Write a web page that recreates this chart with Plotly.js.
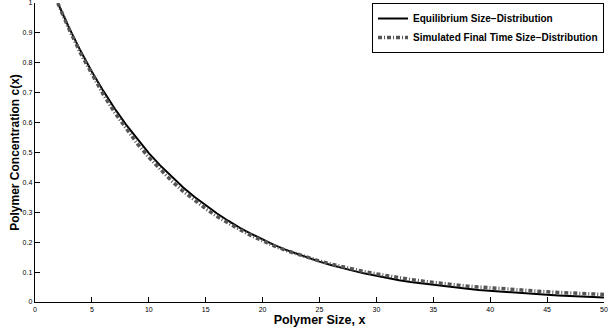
<!DOCTYPE html>
<html>
<head>
<meta charset="utf-8">
<script src="https://cdn.plot.ly/plotly-3.0.1.min.js"></script>
<style>html,body{margin:0;padding:0;background:#fff;}#chart{width:608px;height:335px;}</style>
</head>
<body>
<div id="chart"></div>
<script>
const sizes = [2,3,4,5,6,7,8,9,10,11,12,13,14,15,16,17,18,19,20,21,22,23,24,25,26,27,28,29,30,31,32,33,34,35,36,37,38,39,40,41,42,43,44,45,46,47,48,49,50];
const equilibrium = [1.000,0.917,0.840,0.770,0.706,0.647,0.593,0.544,0.498,0.457,0.419,0.384,0.352,0.323,0.296,0.271,0.248,0.228,0.209,0.191,0.175,0.161,0.147,0.135,0.124,0.113,0.104,0.095,0.087,0.080,0.073,0.067,0.062,0.057,0.052,0.048,0.044,0.040,0.037,0.034,0.031,0.028,0.026,0.024,0.022,0.020,0.018,0.017,0.015];
const simulated = [1.000,0.912,0.832,0.760,0.694,0.634,0.579,0.529,0.484,0.443,0.405,0.371,0.340,0.312,0.286,0.263,0.242,0.222,0.204,0.188,0.173,0.160,0.148,0.137,0.127,0.118,0.109,0.101,0.094,0.087,0.081,0.075,0.070,0.065,0.061,0.057,0.053,0.050,0.047,0.044,0.041,0.039,0.036,0.034,0.032,0.030,0.028,0.026,0.025];
const xTicks = [0,5,10,15,20,25,30,35,40,45,50];
const yTicks = [0,0.1,0.2,0.3,0.4,0.5,0.6,0.7,0.8,0.9,1];
const seriesNames = ['Equilibrium Size\u2212Distribution','Simulated Final Time Size\u2212Distribution'];

const traces = [
  {x: sizes, y: equilibrium, mode: 'lines', name: '<b>' + seriesNames[0] + '</b>',
   line: {color: '#000', width: 2}},
  {x: sizes, y: simulated, mode: 'lines', name: '<b>' + seriesNames[1] + '</b>',
   line: {color: '#555', width: 3.5, dash: '4px,2px,1px,2px'}}
];

const axisCommon = {
  showline: true, linecolor: '#000', linewidth: 1.3,
  ticks: 'inside', ticklen: 5, tickwidth: 1, tickcolor: '#000',
  showgrid: false, zeroline: false, mirror: false,
  ticklabeloverflow: 'allow',
  tickfont: {family: 'Liberation Sans, Arial, sans-serif', size: 7, color: '#000'}
};

const layout = {
  width: 608, height: 335,
  margin: {l: 35, r: 4, t: 3, b: 33},
  paper_bgcolor: '#fff', plot_bgcolor: '#fff',
  showlegend: true,
  legend: {x: 1, xanchor: 'right', y: 1, yanchor: 'top',
           bordercolor: '#000', borderwidth: 1, bgcolor: '#fff',
           font: {family: 'Liberation Sans, Arial, sans-serif', size: 10, color: '#000'},
           tracegroupgap: 0, itemwidth: 30},
  xaxis: Object.assign({}, axisCommon, {
    range: [0, 50], tickvals: xTicks, ticktext: xTicks.map(String),
    title: {text: '<b>Polymer Size, x</b>', standoff: 1,
            font: {family: 'Liberation Sans, Arial, sans-serif', size: 12.5, color: '#000'}}
  }),
  yaxis: Object.assign({}, axisCommon, {
    range: [0, 1], tickvals: yTicks, ticktext: yTicks.map(String),
    title: {text: '<b>Polymer Concentration c(x)</b>', standoff: 0,
            font: {family: 'Liberation Sans, Arial, sans-serif', size: 12, color: '#000'}}
  })
};

Plotly.newPlot('chart', traces, layout, {staticPlot: true, displayModeBar: false});
</script>
</body>
</html>
